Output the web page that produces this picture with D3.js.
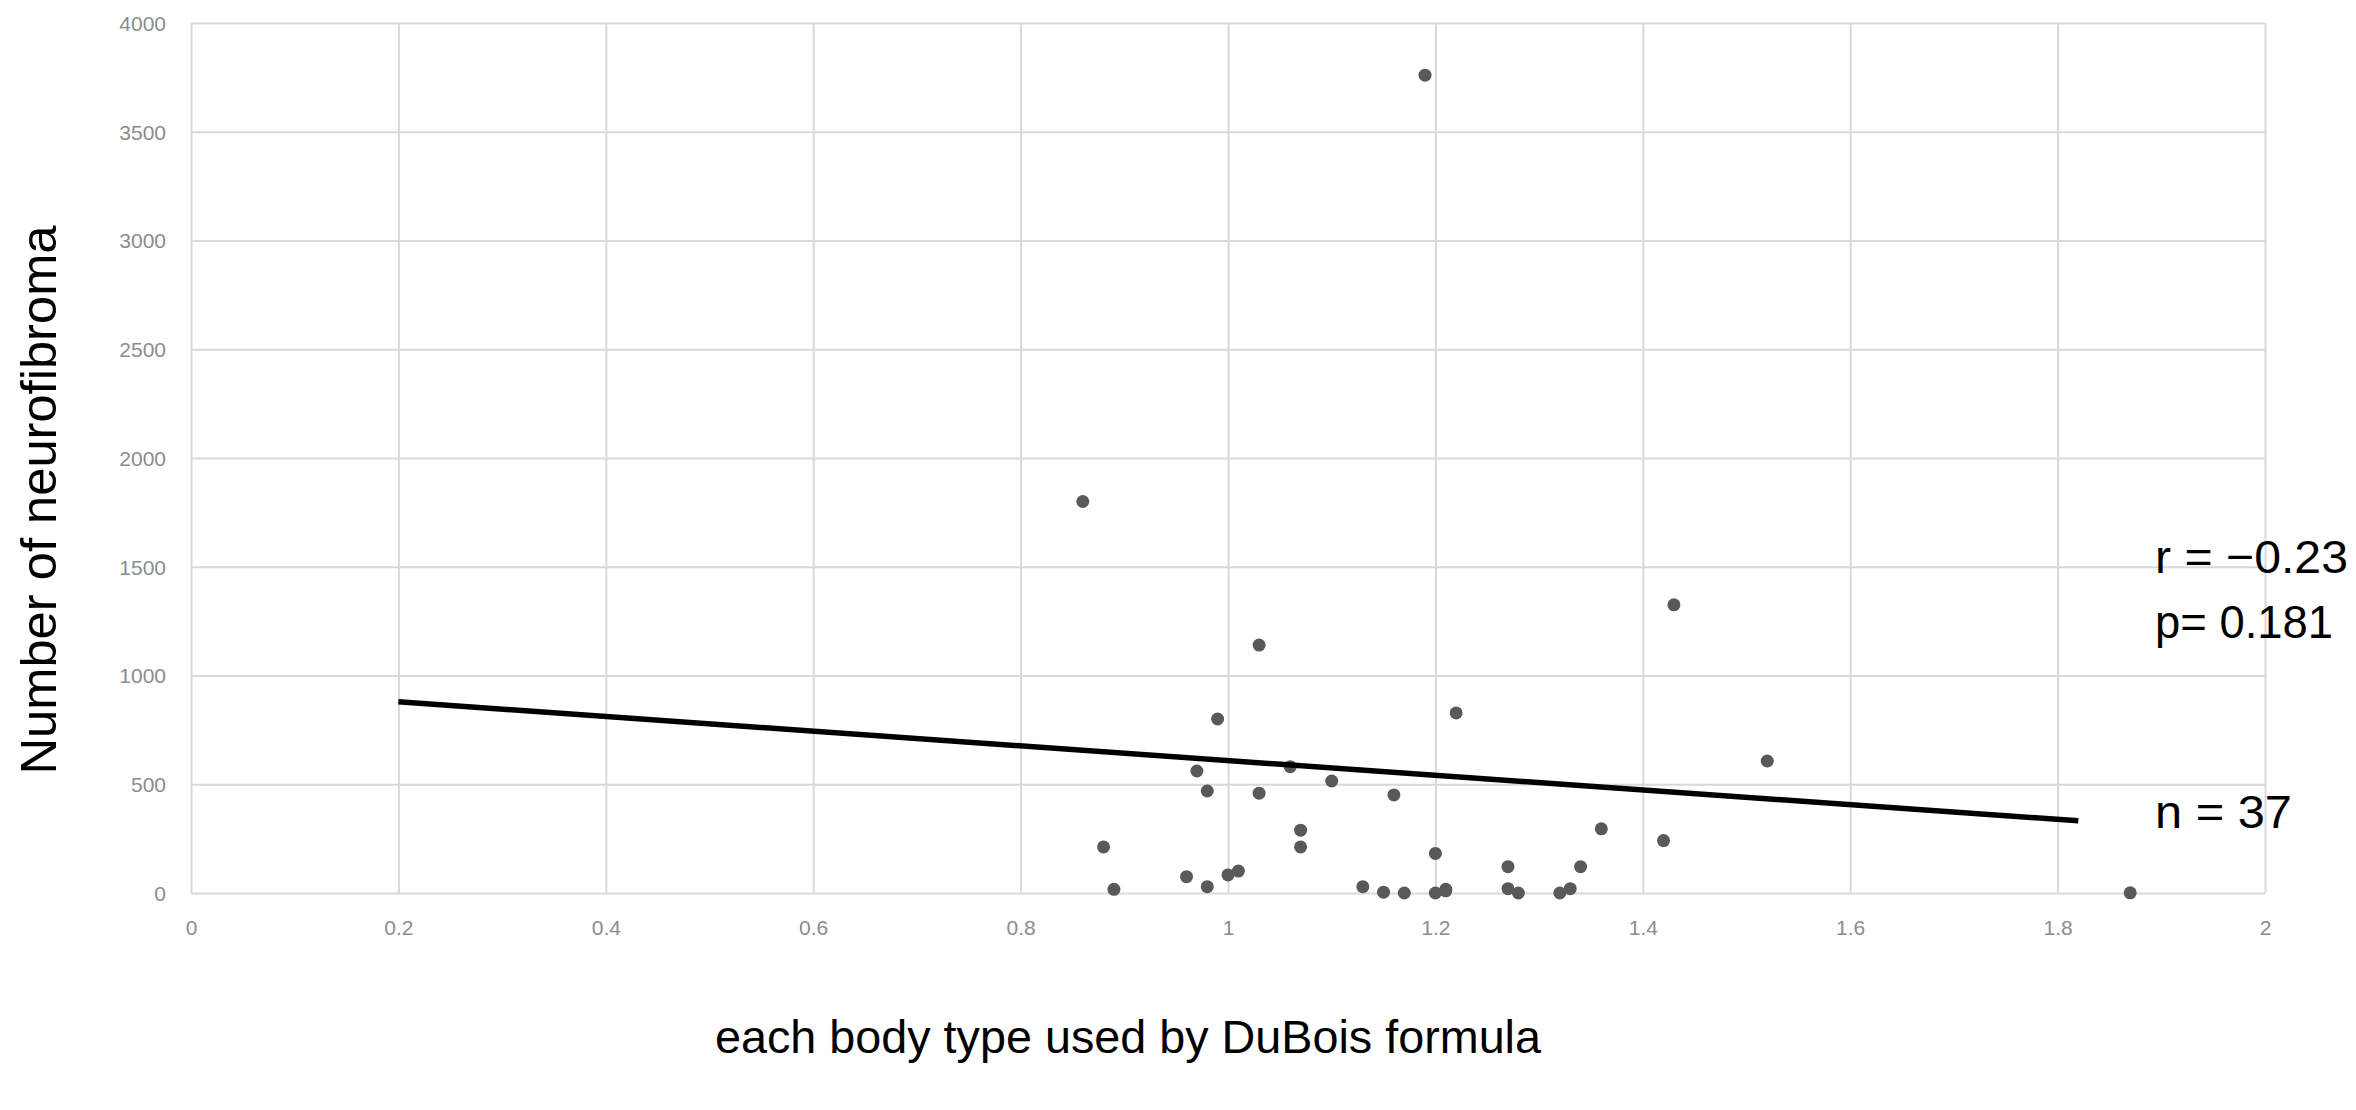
<!DOCTYPE html>
<html>
<head>
<meta charset="utf-8">
<script src="https://cdn.jsdelivr.net/npm/d3@7"></script>
<style>
  body { margin: 0; background: #fff; }
  svg { display: block; }
  .tick text { font-family: "Liberation Sans", Arial, sans-serif; }
</style>
</head>
<body>
<svg id="chart" width="2356" height="1110"></svg>
<script>
// body surface area (DuBois) vs number of neurofibroma
var bsa = [1.19, 0.86, 1.43, 1.03, 1.22, 0.99, 1.52, 1.06, 0.97, 1.10,
           0.98, 1.03, 1.16, 1.07, 1.36, 1.42, 1.07, 0.88, 0.89, 0.96,
           0.98, 1.00, 1.01, 1.13, 1.15, 1.17, 1.20, 1.20, 1.21, 1.27,
           1.27, 1.28, 1.32, 1.33, 1.34, 1.87, 1.21];
var tumours = [3760, 1800, 1325, 1140, 828, 800, 607, 581, 561, 515,
               469, 459, 451, 289, 295, 241, 212, 212, 17, 75,
               29, 83, 101, 29, 4, 0, 182, 0, 17, 121,
               20, 0, 0, 20, 121, 1, 10];

// regression line as drawn
var trendX = [0.2, 1.82];
var trendY = [879, 332];

var xTickVals = [0, 0.2, 0.4, 0.6, 0.8, 1, 1.2, 1.4, 1.6, 1.8, 2];
var yTickVals = [0, 500, 1000, 1500, 2000, 2500, 3000, 3500, 4000];

var statLines = ["r = \u22120.23", "p= 0.181", "n = 37"];

var xTitle = "each body type used by DuBois formula";
var yTitle = "Number of neurofibroma";

var plotLeft = 191, plotRight = 2265, plotTop = 23, plotBottom = 893;
var svg = d3.select('#chart');

var x = d3.scaleLinear().domain([0, 2]).range([plotLeft, plotRight]);
var y = d3.scaleLinear().domain([0, 4000]).range([plotBottom, plotTop]);

var gridColour = '#d9d9d9';

// vertical gridlines + x tick labels
var xAxis = d3.axisBottom(x)
              .tickValues(xTickVals)
              .tickSize(-(plotBottom - plotTop))
              .tickPadding(0)
              .tickFormat(function(d) { return String(+d.toFixed(1)); });

var gx = svg.append('g')
            .attr('transform', 'translate(0,' + plotBottom + ')')
            .call(xAxis);
gx.select('.domain').remove();
gx.selectAll('.tick line').attr('stroke', gridColour).attr('stroke-width', 2);
gx.selectAll('.tick text')
  .attr('y', 42)
  .attr('dy', 0)
  .attr('fill', '#8c8c8c')
  .style('font-size', '21px');

// horizontal gridlines + y tick labels
var yAxis = d3.axisLeft(y)
              .tickValues(yTickVals)
              .tickSize(-(plotRight - plotLeft))
              .tickPadding(0)
              .tickFormat(d3.format('d'));

var gy = svg.append('g')
            .attr('transform', 'translate(' + plotLeft + ',0)')
            .call(yAxis);
gy.select('.domain').remove();
gy.selectAll('.tick line').attr('stroke', gridColour).attr('stroke-width', 2);
gy.selectAll('.tick text')
  .attr('x', -25)
  .attr('dy', '0.35em')
  .attr('fill', '#8c8c8c')
  .style('font-size', '21px');

// points
svg.append('g')
   .selectAll('circle')
   .data(bsa.map(function(d, i) { return { x: d, y: tumours[i] }; }))
   .enter().append('circle')
   .attr('cx', function(d) { return x(d.x); })
   .attr('cy', function(d) { return y(d.y); })
   .attr('r', 6.5)
   .attr('fill', '#595959');

// trend line
var line = d3.line()
             .x(function(d) { return x(d[0]); })
             .y(function(d) { return y(d[1]); });

svg.append('path')
   .datum(d3.zip(trendX, trendY))
   .attr('d', line)
   .attr('fill', 'none')
   .attr('stroke', '#000')
   .attr('stroke-width', 5.5);

// stats text on the right (narrow gothic look: squeeze to measured widths)
var statY = [573, 638, 828];
var statW = [193, 178, 137];
svg.append('g')
   .selectAll('text')
   .data(statLines)
   .enter().append('text')
   .attr('x', 2155)
   .attr('y', function(d, i) { return statY[i]; })
   .attr('textLength', function(d, i) { return statW[i]; })
   .attr('lengthAdjust', 'spacingAndGlyphs')
   .attr('fill', '#000')
   .style('font-family', '"Liberation Sans", Arial, sans-serif')
   .style('font-size', '47px')
   .text(function(d) { return d; });

// axis titles
svg.append('text')
   .attr('x', 1128)
   .attr('y', 1053)
   .attr('text-anchor', 'middle')
   .attr('textLength', 826)
   .attr('lengthAdjust', 'spacingAndGlyphs')
   .style('font-family', '"Liberation Sans", Arial, sans-serif')
   .style('font-size', '46px')
   .text(xTitle);

svg.append('text')
   .attr('transform', 'translate(56,500) rotate(-90)')
   .attr('text-anchor', 'middle')
   .attr('textLength', 549)
   .attr('lengthAdjust', 'spacingAndGlyphs')
   .style('font-family', '"Liberation Sans", Arial, sans-serif')
   .style('font-size', '50px')
   .text(yTitle);
</script>
</body>
</html>
